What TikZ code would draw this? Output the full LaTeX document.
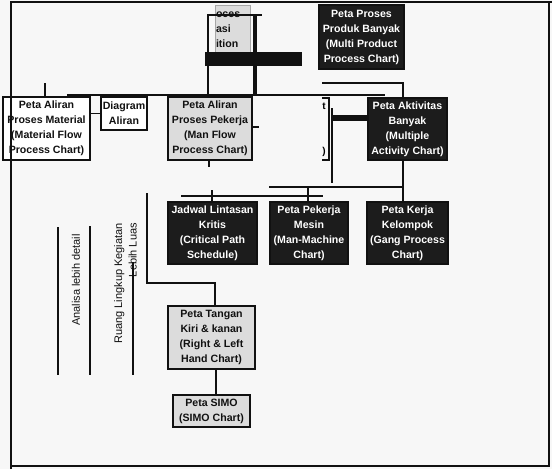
\documentclass[tikz,border=0pt]{standalone}
\usepackage{fontspec}
\setmainfont{Liberation Sans}
\usetikzlibrary{positioning,calc}
\definecolor{paper}{HTML}{F7F7F7}
\definecolor{ink}{HTML}{111111}
\definecolor{chartgrey}{HTML}{DCDCDC}
\definecolor{chartdark}{HTML}{1C1C1C}

\begin{document}
\begin{tikzpicture}[
  x=1pt, y=-1pt,
  font=\fontsize{11}{14.5}\selectfont,
  link/.style={line width=1.3pt, draw=ink},
  heavy/.style={line width=2pt, draw=ink},
  plainbox/.style={draw=ink, line width=1.3pt, fill=white, text=ink,
                   align=center, inner sep=0pt,
                   font=\fontsize{10.6}{15}\selectfont\bfseries},
  greybox/.style={plainbox, fill=chartgrey},
  darkbox/.style={plainbox, fill=chartdark, text=white},
  sidenote/.style={rotate=90, inner sep=0pt, text=ink}
]
\fill[paper] (0,0) rectangle (552,469);
\useasboundingbox (0,0) rectangle (552,469);

% top row
\node[greybox, draw=gray!70, line width=0.6pt, minimum width=35, minimum height=50,
      text width=33, align=left] (cutbox) at (232.5,30) {oces\\asi\\ition};
\node[darkbox, minimum width=85, minimum height=64] (multi) at (361.5,37)
  {Peta Proses\\Produk Banyak\\(Multi Product\\Process Chart)};

% second row
\node[plainbox, minimum width=87, minimum height=63] (material) at (46.5,128.5)
  {Peta Aliran\\Proses Material\\(Material Flow\\Process Chart)};
\node[plainbox, minimum width=46, minimum height=33] (diagram) at (124,113.5)
  {Diagram\\Aliran};
\node[greybox, minimum width=84, minimum height=63] (manflow) at (210,128.5)
  {Peta Aliran\\Proses Pekerja\\(Man Flow\\Process Chart)};
\node[darkbox, minimum width=79, minimum height=62] (activity) at (407.5,129)
  {Peta Aktivitas\\Banyak\\(Multiple\\Activity Chart)};
\node[inner sep=0pt, font=\bfseries] (cutt) at (324,106) {t};
\node[inner sep=0pt, font=\bfseries] (cutp) at (324,152) {)};

% third row
\node[darkbox, minimum width=89, minimum height=62] (critical) at (212.5,233)
  {Jadwal Lintasan\\Kritis\\(Critical Path\\Schedule)};
\node[darkbox, minimum width=78, minimum height=62] (manmachine) at (309,233)
  {Peta Pekerja\\Mesin\\(Man-Machine\\Chart)};
\node[darkbox, minimum width=81, minimum height=62] (gang) at (407.5,233)
  {Peta Kerja\\Kelompok\\(Gang Process\\Chart)};

% lower rows
\node[greybox, minimum width=87, minimum height=63] (hand) at (211.5,337.5)
  {Peta Tangan\\Kiri \& kanan\\(Right \& Left\\Hand Chart)};
\node[greybox, minimum width=77, minimum height=32] (simo) at (211.5,411)
  {Peta SIMO\\(SIMO Chart)};

% side notes
\node[sidenote] (detail) at (76,280) {Analisa lebih detail};
\node[sidenote, anchor=east, align=right] (scope) at (125.5,223)
  {Ruang Lingkup Kegiatan\\Lebih Luas};

% connectors
\coordinate (mainl) at (67,95);
\coordinate (mainr) at (385,95);
\coordinate (topl) at (207,15);
\coordinate (topr) at (262,15);
\coordinate (mast) at (255,15);
\coordinate (stub) at (332,108);
\coordinate (actl) at (322,83);
\coordinate (actr) at (403,83);
\coordinate (rowl) at (269,187);
\coordinate (rowr) at (403,187);
\coordinate (lowl) at (181,196);
\coordinate (lowr) at (323,196);
\coordinate (brk) at (147,193);
\coordinate (brkb) at (147,283);

\draw[heavy] (mainl) -- (mainr);
\draw[link] (material.north -| 45,0) -- ++(0,-13);
\draw[link] (diagram.west) -- (diagram.west -| material.east);
\draw[link] (topl) -- (topr);
\draw[link] (topl -| 208,0) -- (manflow.north -| 208,0);
\draw[line width=4pt, draw=ink] (mast) -- (mast |- mainl);
\draw[link] (manflow.south -| 209,0) -- ++(0,6);
\draw[link] (manflow.east |- 0,127) -- ++(6,0);
\draw[link] (322,98) -- (329,98) -- (329,160) -- (322,160);
\draw[heavy] (stub) -- ++(0,75);
\draw[line width=6pt, draw=ink] (stub |- 0,117.5) -- (activity.west |- 0,117.5);
\draw[link] (actl) -- (actr) -- (actr |- activity.north);
\draw[link] (activity.south -| rowr) -- (rowr) -- (rowl);
\draw[link] (rowr) -- (rowr |- gang.north);
\draw[link] (rowl -| 308,0) -- (manmachine.north -| 308,0);
\draw[link] (lowl) -- (lowr);
\draw[link] (critical.north -| 212,0) -- ++(0,-11);
\draw[link] (brk) -- (brkb) -- (brkb -| 215,0) -- (hand.north -| 215,0);
\draw[link] (hand.south -| 216,0) -- (simo.north -| 216,0);
\draw[link] (58,227) -- (58,375);
\draw[link] (90,226) -- (90,375);
\draw[link] (133,262) -- (133,375);

% the black bar over the top row
\node[fill=ink, minimum width=97, minimum height=14, inner sep=0pt] (bar) at (253.5,59) {};

% frame
\draw[heavy] (11,469) -- (11,2) -- (552,2);
\draw[heavy] (549,2) -- (549,466) -- (11,466);

\end{tikzpicture}
\end{document}
